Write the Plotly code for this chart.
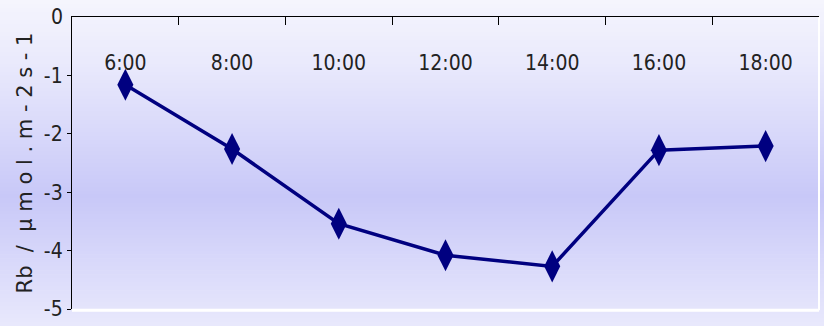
import plotly.graph_objects as go

# data
times = ["6:00", "8:00", "10:00", "12:00", "14:00", "16:00", "18:00"]
rb_values = [-1.16, -2.26, -3.54, -4.08, -4.27, -2.28, -2.21]
y_ticks = [0, -1, -2, -3, -4, -5]
y_title = "Rb\u00a0\u00a0/\u00a0\u00a0μ\u00a0m\u00a0o\u00a0l\u00a0.\u00a0m\u00a0-\u00a02\u00a0s\u00a0-\u00a01"

W, H = 824, 326
ML, MR, MT, MB = 72, 5, 17, 15
pw, ph = W - ML - MR, H - MT - MB

def px_to_paper_y(py):
    return (H - MB - py) / ph

def px_to_paper_x(px):
    return (px - ML) / pw

stops = [(0, (245, 245, 253)), (60, (234, 234, 252)), (200, (200, 200, 248)), (326, (232, 232, 252))]

def col_at(py):
    for (a, ca), (b, cb) in zip(stops[:-1], stops[1:]):
        if a <= py <= b:
            t = (py - a) / (b - a)
            c = [round(ca[i] + (cb[i] - ca[i]) * t) for i in range(3)]
            return "rgb(%d,%d,%d)" % tuple(c)
    return "rgb(%d,%d,%d)" % stops[-1][1]

shapes = []
step = 4
for py in range(0, H, step):
    shapes.append(dict(type="rect", xref="paper", yref="paper",
                       x0=px_to_paper_x(0), x1=px_to_paper_x(W),
                       y0=px_to_paper_y(py + step + 0.5), y1=px_to_paper_y(py),
                       fillcolor=col_at(py + step / 2), line=dict(width=0), layer="below"))
# white border on right and bottom of plot area
shapes.append(dict(type="line", xref="paper", yref="paper", x0=0, x1=1, y0=-0.004, y1=-0.004,
                   line=dict(color="white", width=3), layer="below"))
shapes.append(dict(type="line", xref="paper", yref="paper", x0=1, x1=1, y0=-0.004, y1=1,
                   line=dict(color="white", width=2), layer="below"))

fig = go.Figure()
fig.add_trace(go.Scatter(
    x=times, y=rb_values, mode="lines+markers",
    line=dict(color="#000080", width=3.5),
    marker=dict(symbol="diamond-tall", size=23, color="#000080"),
    showlegend=False, cliponaxis=False,
))

narrow = "Liberation Sans Narrow, DejaVu Sans Condensed, Arial Narrow, sans-serif"

# label for the top tick (hidden by plotly next to the inside x labels)
fig.add_annotation(x=0, xref="paper", xanchor="right", xshift=-7, y=y_ticks[0], yref="y",
                   yanchor="middle", text=str(y_ticks[0]), showarrow=False,
                   font=dict(family=narrow, size=21, color="#222222"))

fig.update_layout(
    width=W, height=H,
    margin=dict(l=ML, r=MR, t=MT, b=MB),
    paper_bgcolor="rgb(232,232,252)",
    plot_bgcolor="rgba(0,0,0,0)",
    shapes=shapes,
    xaxis=dict(
        type="category", side="top", showline=True, linecolor="black", linewidth=1.2,
        ticks="inside", ticklen=8, tickcolor="black", tickwidth=1.2, tickson="boundaries",
        ticklabelposition="inside", ticklabelstandoff=31,
        tickfont=dict(family=narrow, size=21, color="#222222"),
        showgrid=False, zeroline=False, range=[-0.5, 6.5],
    ),
    yaxis=dict(
        range=[-5, 0], tickvals=y_ticks, ticktext=[str(v) for v in y_ticks],
        showline=True, linecolor="black", linewidth=1.2,
        ticks="outside", ticklen=4, tickcolor="black", tickwidth=1.2,
        tickfont=dict(family=narrow, size=21, color="#222222"),
        showgrid=False, zeroline=False,
        title=dict(text=y_title, font=dict(family="DejaVu Sans", size=21, color="#222222"), standoff=5),
    ),
)

fig.write_html("out.html")
